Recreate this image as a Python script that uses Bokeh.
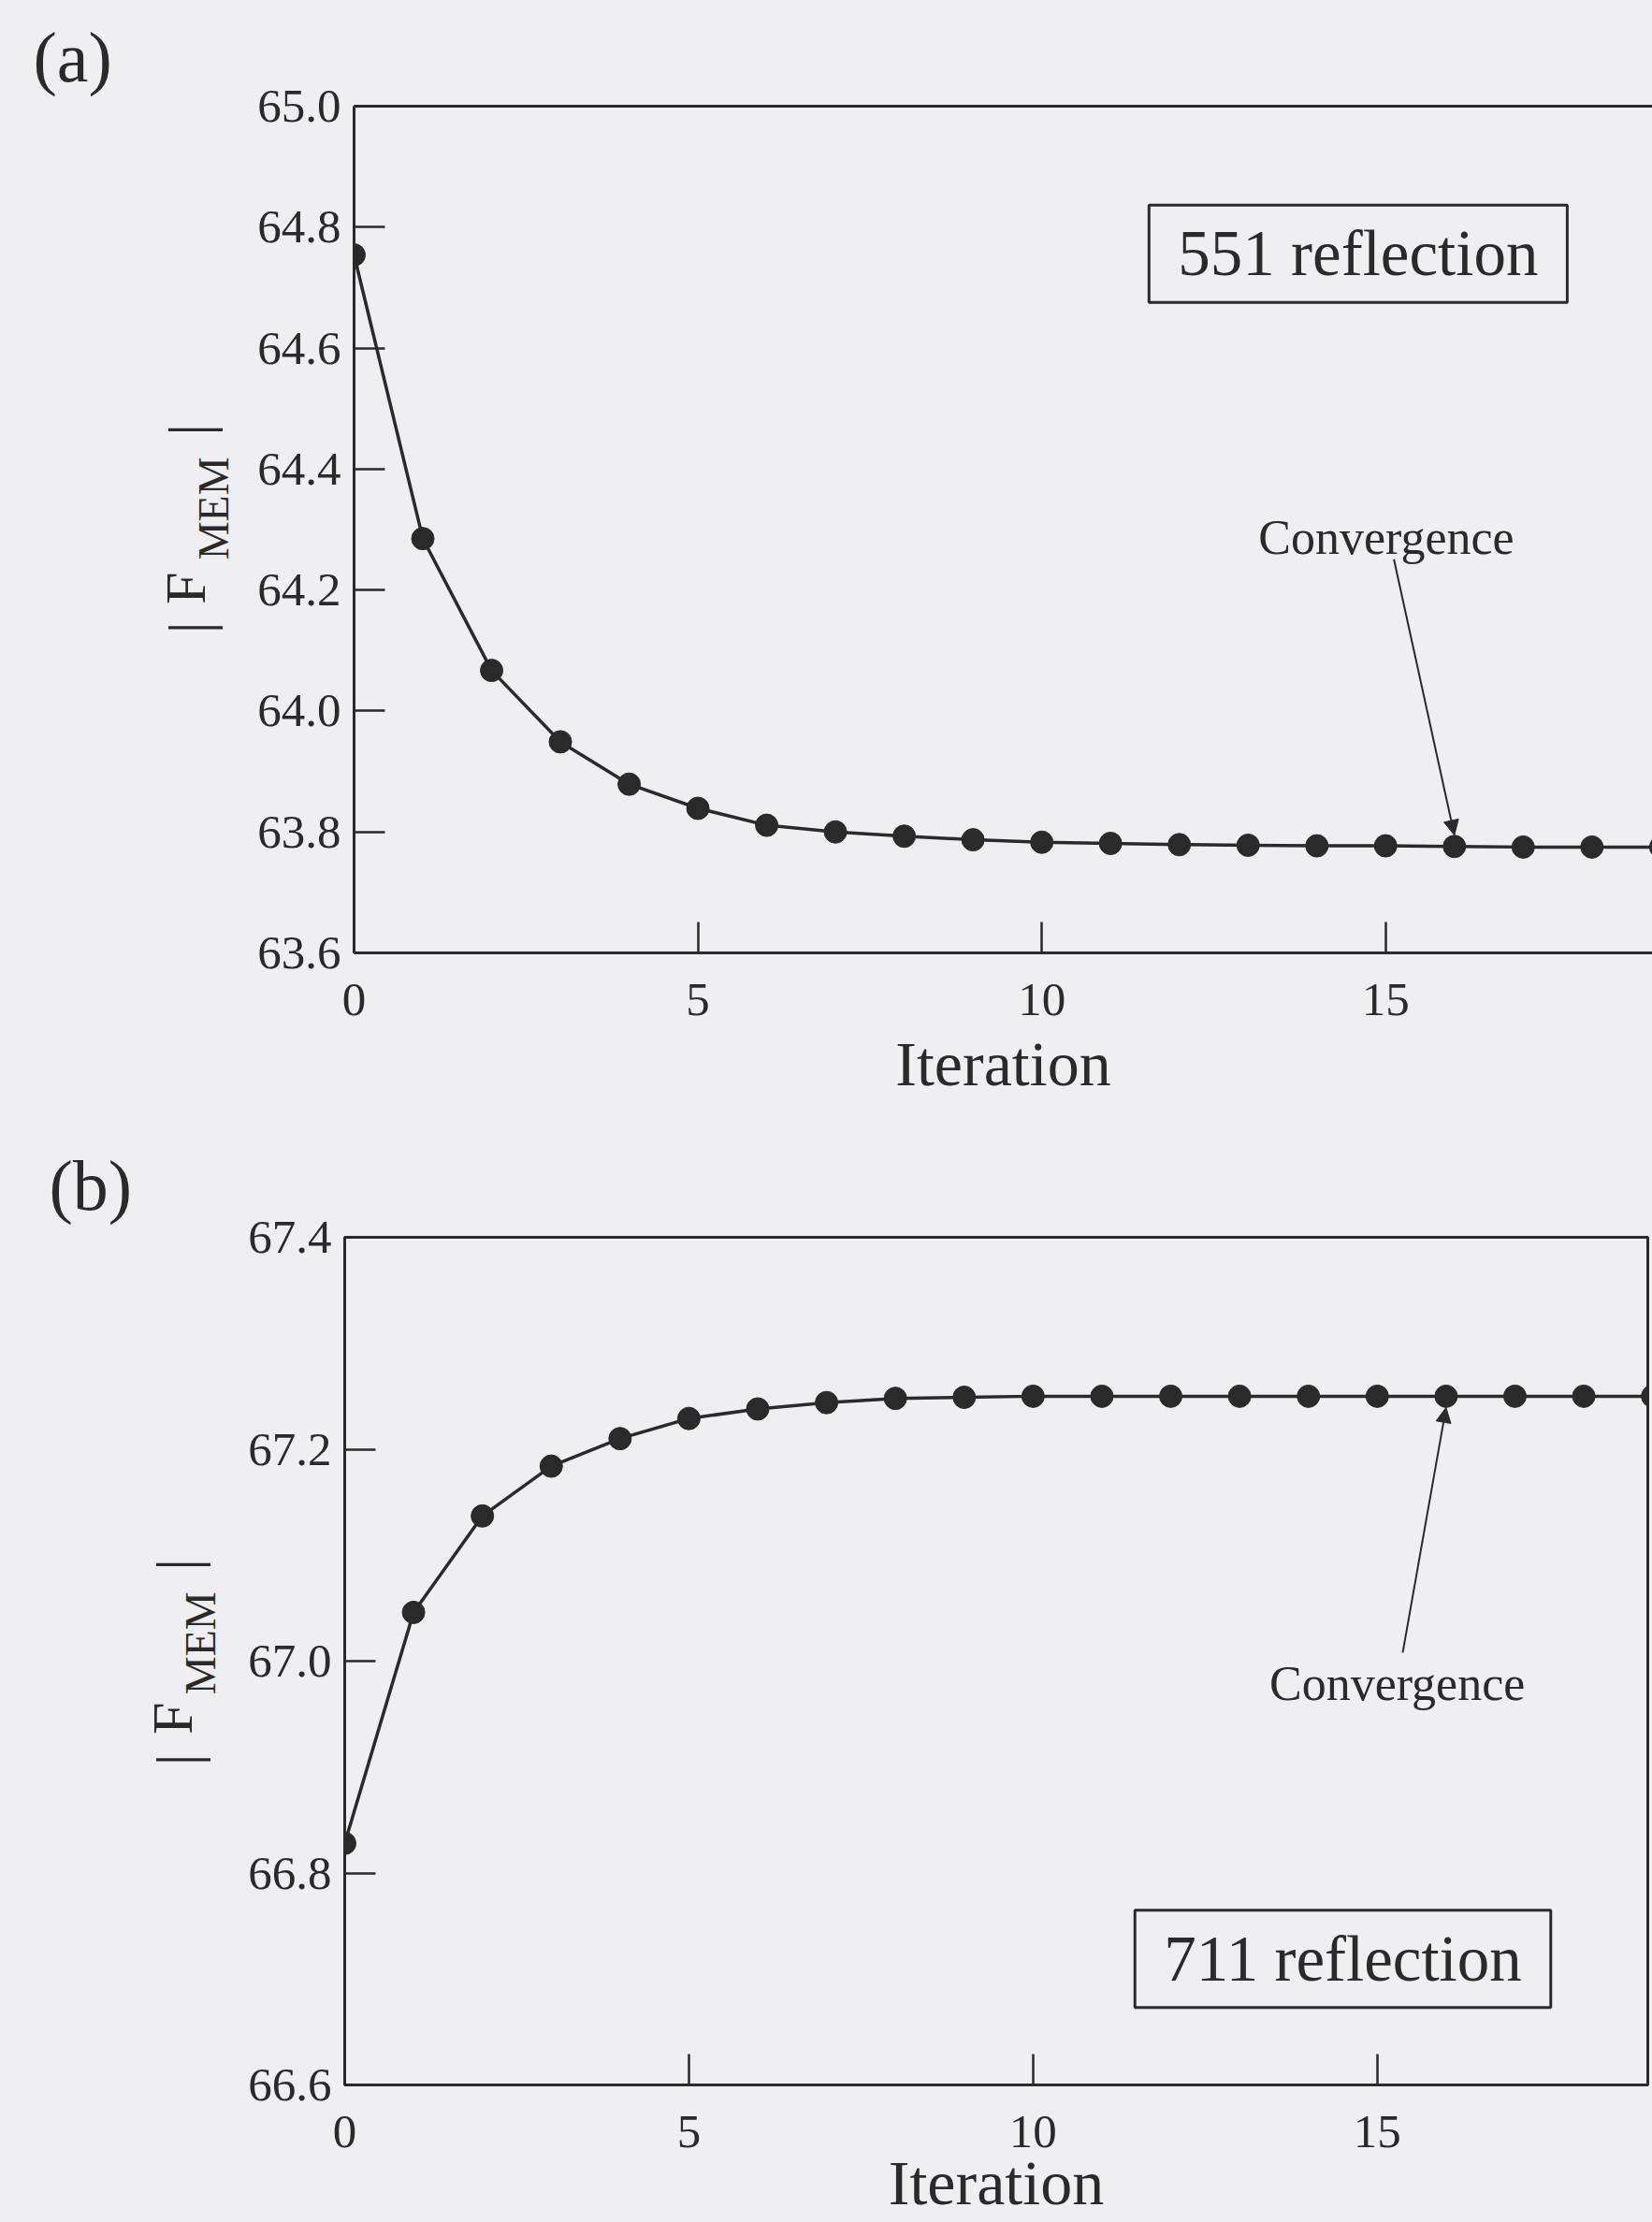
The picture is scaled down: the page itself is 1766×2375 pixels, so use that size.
from bokeh.plotting import figure
from bokeh.models import (Range1d, FixedTicker, PrintfTickFormatter, Label, Title,
                          Arrow, NormalHead, ColumnDataSource, LinearAxis)
from bokeh.layouts import column, row
from bokeh.embed import file_html
from bokeh.resources import INLINE

# |F_MEM| against MEM iteration number for two reflections
iterations = list(range(20))
f_551 = [64.754, 64.285, 64.067, 63.949, 63.879, 63.839, 63.811, 63.800,
         63.793, 63.787, 63.783, 63.781, 63.779, 63.778, 63.777, 63.777,
         63.776, 63.775, 63.775, 63.775]
f_711 = [66.828, 67.046, 67.137, 67.184, 67.210, 67.229, 67.238, 67.244,
         67.248, 67.249, 67.250, 67.250, 67.250, 67.250, 67.250, 67.250,
         67.250, 67.250, 67.250, 67.250]
x_ticks = [0, 5, 10, 15]
y_ticks_551 = [63.6, 63.8, 64.0, 64.2, 64.4, 64.6, 64.8, 65.0]
y_ticks_711 = [66.6, 66.8, 67.0, 67.2, 67.4]
converged_at = 16

FONT = "Liberation Serif"
INK = "#2a2a2a"
BG = "#efeef0"
MARKER_PX = 24
STRIP_W = 258          # width of the strip holding the panel letter and y title
TOTAL_W = 1766


def make_panel(values, y_lo, y_hi, yticks, x_hi, height, b_left, b_right,
               b_top, b_bottom, label_standoff, right_frame):
    p = figure(width=TOTAL_W - STRIP_W, height=height,
               x_range=Range1d(0, x_hi), y_range=Range1d(y_lo, y_hi),
               output_backend="svg", toolbar_location=None,
               min_border_left=b_left, min_border_right=b_right,
               min_border_top=b_top, min_border_bottom=b_bottom)
    p.background_fill_color = BG
    p.border_fill_color = BG
    p.grid.visible = False

    xa = p.below[0]
    ya = p.left[0]
    for ax in (xa, ya):
        ax.axis_line_color = INK
        ax.axis_line_width = 3
        ax.major_tick_line_color = INK
        ax.major_tick_line_width = 2.5
        ax.major_tick_in = 33
        ax.major_tick_out = 0
        ax.minor_tick_line_color = None
        ax.major_label_text_font = FONT
        ax.major_label_text_font_size = "51px"
        ax.major_label_text_color = INK

    xa.ticker = FixedTicker(ticks=x_ticks)
    xa.major_label_standoff = 33
    xa.axis_label = "Iteration"
    xa.axis_label_text_font = FONT
    xa.axis_label_text_font_size = "68px"
    xa.axis_label_text_font_style = "normal"
    xa.axis_label_text_color = INK
    xa.axis_label_standoff = label_standoff
    ya.ticker = FixedTicker(ticks=yticks)
    ya.formatter = PrintfTickFormatter(format="%.1f")
    ya.major_label_standoff = 14

    if right_frame:
        p.outline_line_color = INK
        p.outline_line_width = 3
    else:
        # top edge only; the right edge lies past the page
        p.outline_line_color = None
        p.add_layout(LinearAxis(ticker=FixedTicker(ticks=[]), axis_line_color=INK,
                                axis_line_width=3, major_tick_line_color=None,
                                minor_tick_line_color=None), "above")

    src = ColumnDataSource(dict(x=iterations, y=values))
    p.line("x", "y", source=src, line_color=INK, line_width=3.5)
    p.scatter("x", "y", source=src, size=MARKER_PX, marker="circle",
              fill_color=INK, line_color=INK)
    return p


def strip(height, y_lo, y_hi, letter, letter_x, letter_standoff):
    # narrow area left of the value axis; x in pixels, y shares the panel's values
    s = figure(width=STRIP_W, height=height, x_range=Range1d(0, STRIP_W),
               y_range=Range1d(y_lo, y_hi), output_backend="svg",
               toolbar_location=None, x_axis_type=None, y_axis_type=None,
               min_border=0)
    s.background_fill_color = BG
    s.border_fill_color = BG
    s.outline_line_color = None
    s.grid.visible = False
    s.title = Title(text=letter, align="left", offset=letter_x,
                    standoff=letter_standoff, text_font=FONT,
                    text_font_size="76px", text_font_style="normal",
                    text_color=INK)
    return s


def text(p, x, y, s, size, align="center", baseline="middle", angle=0.0):
    p.add_layout(Label(x=x, y=y, text=s, text_font=FONT, text_font_size=size,
                       text_color=INK, text_align=align, text_baseline=baseline,
                       angle=angle))


def boxed(p, x, y, s):
    p.add_layout(Label(x=x, y=y, text=s, text_font=FONT, text_font_size="69px",
                       text_color=INK, text_align="center", text_baseline="middle",
                       border_line_color=INK, border_line_width=3,
                       background_fill_color=BG,
                       padding=dict(left=31, right=31, top=14, bottom=14)))


def fmem_title(s, x_bar, x_f, x_sub, y_bot, y_f, y_sub, y_top):
    rot = 1.5707963
    text(s, x_bar, y_bot, "|", "64px", angle=rot)
    text(s, x_f, y_f, "F", "62px", angle=rot)
    text(s, x_sub, y_sub, "MEM", "46px", angle=rot)
    text(s, x_bar, y_top, "|", "64px", angle=rot)


# ---- panel (a): 551 reflection ----
Ha = 1200
sa = strip(Ha, 63.6, 65.0, "(a)", 35, 22)
fmem_title(sa, 202, 197, 228, 64.138, 64.203, 64.335, 64.465)
pa = make_panel(f_551, 63.6, 65.0, y_ticks_551, 18.88, Ha, 120, 0, 113, 182, 11, False)
boxed(pa, 14.60, 64.756, "551 reflection")
text(pa, 15.01, 64.287, "Convergence", "52px", baseline="alphabetic")
pa.add_layout(Arrow(end=NormalHead(size=16, fill_color=INK, line_color=INK, line_width=1),
                    x_start=15.12, y_start=64.251,
                    x_end=converged_at, y_end=f_551[converged_at] + (MARKER_PX / 2) / 646.4,
                    line_color=INK, line_width=2))

# ---- panel (b): 711 reflection ----
Hb = 1175
sb = strip(Hb, 66.6, 67.4, "(b)", 52, 27)
fmem_title(sb, 189, 183, 214, 66.907, 66.946, 67.017, 67.091)
pb = make_panel(f_711, 66.6, 67.4, y_ticks_711, 18.93, Hb, 110, 5, 122, 147, -3, True)
boxed(pb, 14.50, 66.719, "711 reflection")
text(pb, 15.29, 66.979, "Convergence", "52px", baseline="alphabetic")
pb.add_layout(Arrow(end=NormalHead(size=16, fill_color=INK, line_color=INK, line_width=1),
                    x_start=15.37, y_start=67.008,
                    x_end=converged_at, y_end=f_711[converged_at] - (MARKER_PX / 2) / 1132.5,
                    line_color=INK, line_width=2))

page_bg = {"background-color": BG}
layout = column(row(sa, pa, spacing=0, styles=page_bg),
                row(sb, pb, spacing=0, styles=page_bg),
                spacing=0, styles=page_bg)
open("out.html", "w").write(file_html(layout, INLINE))
